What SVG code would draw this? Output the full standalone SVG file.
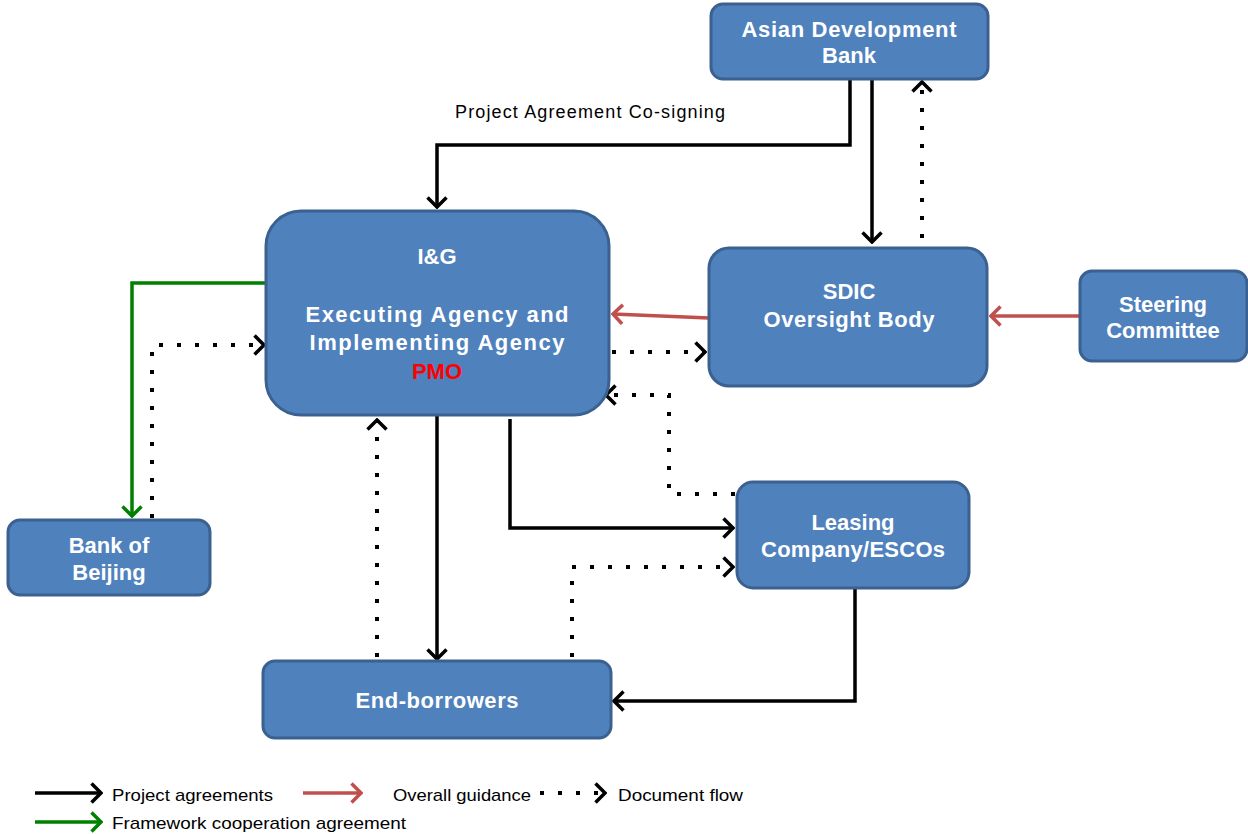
<svg xmlns="http://www.w3.org/2000/svg" width="1248" height="834" viewBox="0 0 1248 834">
<defs>
<style>
.box{fill:#4F81BD;stroke:#3B6190;stroke-width:3}
.t{font-family:"Liberation Sans",Arial,sans-serif;font-weight:bold;font-size:22px;fill:#fff;text-anchor:middle}
.pmo{fill:#FF0000}
.lbl{font-family:"Liberation Sans",Arial,sans-serif;font-size:18px;fill:#000}
.leg{font-family:"Liberation Sans Narrow","Liberation Sans",Arial,sans-serif;font-size:17px;fill:#000}
.k{fill:none;stroke:#000;stroke-width:3.5;marker-end:url(#ak)}
.r{fill:none;stroke:#C0504D;stroke-width:3.5;marker-end:url(#ar)}
.g{fill:none;stroke:#008000;stroke-width:3.5;marker-end:url(#ag)}
.d{fill:none;stroke:#000;stroke-width:4;stroke-dasharray:4 14;marker-end:url(#ak)}
</style>
<marker id="ak" viewBox="0 0 13 22" refX="11" refY="11" markerWidth="13" markerHeight="22" markerUnits="userSpaceOnUse" orient="auto"><path d="M1.5,1.5 L11,11 L1.5,20.5" fill="none" stroke="#000" stroke-width="3.5"/></marker>
<marker id="ar" viewBox="0 0 13 22" refX="11" refY="11" markerWidth="13" markerHeight="22" markerUnits="userSpaceOnUse" orient="auto"><path d="M1.5,1.5 L11,11 L1.5,20.5" fill="none" stroke="#C0504D" stroke-width="3.5"/></marker>
<marker id="ag" viewBox="0 0 13 22" refX="11" refY="11" markerWidth="13" markerHeight="22" markerUnits="userSpaceOnUse" orient="auto"><path d="M1.5,1.5 L11,11 L1.5,20.5" fill="none" stroke="#008000" stroke-width="3.5"/></marker>
</defs>
<rect width="1248" height="834" fill="#fff"/>

<g id="connectors">
<path class="k" d="M850,79 V145 H437 V207"/>
<path class="k" d="M872,79 V242"/>
<path class="d" d="M922,238 V82"/>
<path class="r" d="M709,318 L613,314"/>
<path class="r" d="M1080,316 H991"/>
<path class="d" d="M612,352 H705"/>
<path class="g" d="M266,283 H132 V516"/>
<path class="d" d="M152,518 V345 H264"/>
<path class="k" d="M437,416 V659"/>
<path class="d" d="M377,657 V420"/>
<path class="k" d="M510,419 V528 H733"/>
<path class="d" d="M735,494 H669 V395 H606"/>
<path class="d" d="M572,657 V567 H733"/>
<path class="k" d="M855,589 V701 H614"/>
<text class="lbl" x="455" y="118" textLength="270" lengthAdjust="spacing">Project Agreement  Co-signing</text>
</g>

<g id="adb"><rect class="box" x="711" y="4" width="277" height="75" rx="12"/>
<text class="t" x="849" y="37" textLength="215">Asian Development</text><text class="t" x="849" y="63">Bank</text></g>

<g id="ig"><rect class="box" x="266" y="211" width="343" height="204" rx="35"/>
<text class="t" x="437" y="264">I&amp;G</text>
<text class="t" x="437" y="322" textLength="263">Executing Agency and</text>
<text class="t" x="437" y="350" textLength="255">Implementing Agency</text>
<text class="t pmo" x="437" y="379">PMO</text></g>

<g id="sdic"><rect class="box" x="709" y="248" width="278" height="138" rx="20"/>
<text class="t" x="849" y="299">SDIC</text><text class="t" x="849" y="327" textLength="171">Oversight Body</text></g>

<g id="steering"><rect class="box" x="1080" y="271" width="167" height="90" rx="12"/>
<text class="t" x="1163" y="312">Steering</text><text class="t" x="1163" y="338">Committee</text></g>

<g id="bob"><rect class="box" x="8" y="520" width="202" height="75" rx="12"/>
<text class="t" x="109" y="553">Bank of</text><text class="t" x="109" y="580">Beijing</text></g>

<g id="leasing"><rect class="box" x="737" y="482" width="232" height="106" rx="16"/>
<text class="t" x="853" y="530">Leasing</text><text class="t" x="853" y="557" textLength="184">Company/ESCOs</text></g>

<g id="endb"><rect class="box" x="263" y="661" width="348" height="77" rx="12"/>
<text class="t" x="437" y="708" textLength="163">End-borrowers</text></g>

<g id="legend">
<path class="k" d="M35,793 H101"/>
<text class="leg" x="112" y="801" textLength="161" lengthAdjust="spacingAndGlyphs">Project agreements</text>
<path class="r" d="M303,793 H361"/>
<text class="leg" x="393" y="801" textLength="138" lengthAdjust="spacingAndGlyphs">Overall guidance</text>
<path class="d" d="M540,793 H605"/>
<text class="leg" x="618" y="801" textLength="125" lengthAdjust="spacingAndGlyphs">Document flow</text>
<path class="g" d="M35,822 H101"/>
<text class="leg" x="112" y="829" textLength="294" lengthAdjust="spacingAndGlyphs">Framework cooperation agreement</text>
</g>
</svg>
